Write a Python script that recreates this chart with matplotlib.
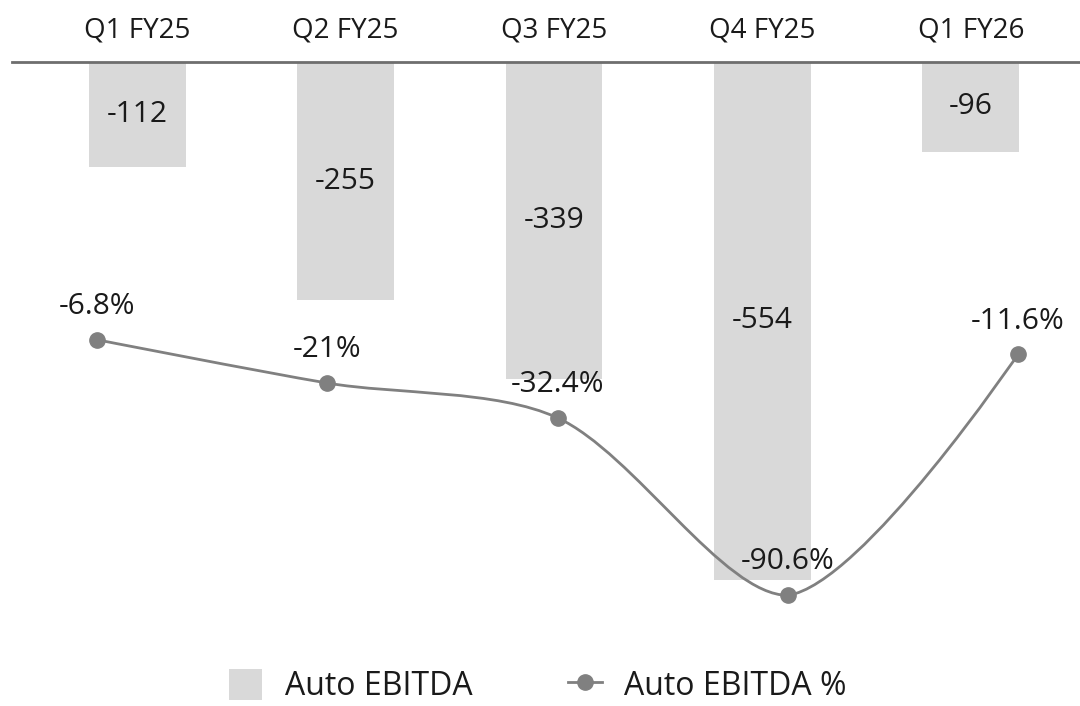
import matplotlib
matplotlib.use('Agg')
import matplotlib.pyplot as plt
import numpy as np
from matplotlib.path import Path
from matplotlib.patches import PathPatch, Patch
from matplotlib.lines import Line2D

plt.rcParams['font.family'] = ['Open Sans', 'DejaVu Sans']

quarters = ['Q1 FY25', 'Q2 FY25', 'Q3 FY25', 'Q4 FY25', 'Q1 FY26']
ebitda = [-112, -255, -339, -554, -96]
ebitda_pct = [-6.8, -21.0, -32.4, -90.6, -11.6]
pct_labels = ['-6.8%', '-21%', '-32.4%', '-90.6%', '-11.6%']

W, H = 1080, 706
fig = plt.figure(figsize=(W / 100, H / 100), dpi=100)

# plot area in pixels
top_px, bot_px = 62, 640
left_px, right_px = 33, 1075
rect = [left_px / W, 1 - bot_px / H, (right_px - left_px) / W, (bot_px - top_px) / H]

bar_color = '#d9d9d9'
line_color = '#808080'
text_color = '#1a1a1a'

##### bars #################################################################
ax = fig.add_axes(rect)
x = np.arange(len(quarters))
ax.bar(x, ebitda, width=0.465, color=bar_color, zorder=1)
ax.set_xlim(-0.5, len(quarters) - 0.5)
ax.set_ylim(-(bot_px - top_px) / 0.935, 0)
ax.axis('off')

for xi, v in zip(x, ebitda):
    ax.text(xi, v / 2, str(v), ha='center', va='center', fontsize=21.5, color=text_color, zorder=3)

# category labels above the zero line
for xi, q in zip(x, quarters):
    ax.text(xi, 1 + 31 / (bot_px - top_px), q, transform=ax.get_xaxis_transform(),
            ha='center', va='center', fontsize=20, color=text_color, clip_on=False)

##### line #################################################################
ax2 = fig.add_axes(rect)
ax2.patch.set_alpha(0)
ax2.axis('off')
px_per_x = (1018 - 97) / 4
px_per_y = 3.05
zero_px = 319
ax2.set_xlim(-(97 - left_px) / px_per_x, 4 + (right_px - 1018) / px_per_x)
ax2.set_ylim(-(bot_px - zero_px) / px_per_y, (zero_px - top_px) / px_per_y)

# smooth curve through the points, control points clamped to the data range
pts = ax2.transData.transform(np.column_stack([x, ebitda_pct]))
ymin, ymax = pts[:, 1].min(), pts[:, 1].max()
smooth = 0.3
cps = []
for i in range(len(pts)):
    if i == 0 or i == len(pts) - 1:
        cps.append((pts[i].copy(), pts[i].copy()))
        continue
    prev, cur, nxt = pts[i - 1], pts[i], pts[i + 1]
    v = (nxt - prev) * smooth
    d0 = np.linalg.norm(cur - prev)
    d1 = np.linalg.norm(nxt - cur)
    c0 = cur - v * d0 / (d0 + d1)
    c1 = cur + v * d1 / (d0 + d1)
    c0[1] = np.clip(c0[1], ymin, ymax)
    c1[1] = np.clip(c1[1], ymin, ymax)
    cps.append((c0, c1))

verts = [pts[0]]
codes = [Path.MOVETO]
for i in range(len(pts) - 1):
    verts += [cps[i][1], cps[i + 1][0], pts[i + 1]]
    codes += [Path.CURVE4] * 3
inv = ax2.transData.inverted()
verts = inv.transform(np.array(verts))
ax2.add_patch(PathPatch(Path(verts, codes), fill=False, edgecolor=line_color, lw=2, zorder=4))
ax2.plot(x, ebitda_pct, 'o', color=line_color, ms=11, zorder=5)

for xi, v, lab in zip(x, ebitda_pct, pct_labels):
    ax2.annotate(lab, (xi, v), xytext=(0, 24), textcoords='offset points',
                 ha='center', va='center', fontsize=21.5, color=text_color, zorder=6)

# zero line along the top
fig.add_artist(Line2D([12 / W, 1], [1 - top_px / H] * 2, color='#6e6e6e', lw=2))

##### legend #################################################################
handles = [Patch(facecolor=bar_color, edgecolor='none'),
           Line2D([0], [0], color=line_color, lw=2, marker='o', ms=11)]
fig.legend(handles, ['Auto EBITDA', 'Auto EBITDA %'], loc='center',
           bbox_to_anchor=(0.498, 1 - 686 / H), ncol=2, frameon=False, fontsize=23,
           handlelength=1.05, handleheight=1.15, columnspacing=3.0, handletextpad=0.7,
           labelcolor=text_color)

plt.savefig('out.png', dpi=100)
